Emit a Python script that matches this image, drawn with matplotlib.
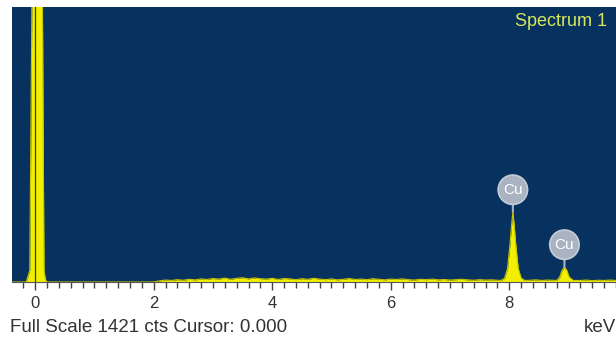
import matplotlib.pyplot as plt
from matplotlib.ticker import MultipleLocator

plt.rcParams["font.family"] = ["Liberation Sans", "DejaVu Sans"]

# EDS spectrum, counts per channel against energy (keV)
energy_kev = [
    -0.40, -0.15, -0.13, -0.09, -0.05, 0.12, 0.15, 0.17, 0.19,
    2.00, 2.10,
    2.2, 2.3, 2.4, 2.5, 2.6, 2.7, 2.8, 2.9, 3.0, 3.1, 3.2, 3.3, 3.4, 3.5,
    3.6, 3.7, 3.8, 3.9, 4.0, 4.1, 4.2, 4.3, 4.4, 4.5, 4.6, 4.7, 4.8, 4.9,
    5.0, 5.1, 5.2, 5.3, 5.4, 5.5, 5.6, 5.7, 5.8, 5.9, 6.0, 6.1, 6.2, 6.3,
    6.4, 6.5, 6.6, 6.7, 6.8, 6.9, 7.0, 7.1, 7.2, 7.3, 7.4, 7.5, 7.6, 7.7,
    7.8,
    7.86, 7.92, 7.97, 8.01, 8.04, 8.06, 8.08, 8.11, 8.15, 8.20, 8.26,
    8.35, 8.45, 8.55, 8.65, 8.74,
    8.80, 8.85, 8.89, 8.93, 8.97, 9.01, 9.08,
    9.2, 9.3, 9.4, 9.5, 9.6, 9.7, 9.8,
]
counts = [
    0, 0, 20, 60, 1600, 1600, 60, 20, 0,
    0, 6,
    10, 8, 12, 9, 14, 11, 16, 13, 18, 15, 20, 14, 19, 22,
    16, 21, 17, 15, 19, 13, 18, 16, 12, 17, 14, 19, 15, 12,
    16, 11, 14, 18, 13, 15, 12, 17, 14, 11, 15, 13, 16, 12,
    10, 14, 12, 15, 11, 13, 10, 12, 14, 11, 9, 12, 10, 11,
    9,
    8, 20, 70, 190, 300, 362, 300, 190, 70, 20, 8,
    9, 11, 8, 10, 9,
    8, 25, 60, 78, 60, 25, 8,
    8, 10, 7, 9, 8, 10, 8,
]

full_scale = 1421
cursor_kev = 0.000

# element markers: label, energy, peak counts
marker_labels = ["Cu", "Cu"]
marker_energy = [8.06, 8.93]
marker_counts = [362, 78]

bg = "#07325f"
yellow = "#f2f000"

fig = plt.figure(figsize=(6.16, 3.41), dpi=100)
ax = fig.add_axes([12 / 616, 59 / 341, 604 / 616, 275 / 341])
ax.set_facecolor(bg)

ax.fill_between(energy_kev, counts, 0, color=yellow, linewidth=0, zorder=2)
ax.plot(energy_kev, counts, color="#c9c400", linewidth=0.8, zorder=3)
ax.axvline(cursor_kev, color="#3a3a20", linewidth=0.9, zorder=4)

for label, e, c in zip(marker_labels, marker_energy, marker_counts):
    ax.annotate(label, xy=(e, c), xytext=(0, 16), textcoords="offset points",
                ha="center", va="center", fontsize=11, color="white",
                bbox=dict(boxstyle="circle,pad=0.32", fc="#a9b3c1", ec="#c4ccd6", lw=1.2),
                arrowprops=dict(arrowstyle="-", color="#aab4c2", lw=1.5,
                                shrinkA=0, shrinkB=0),
                zorder=5)

ax.text(0.985, 0.949, "Spectrum 1", transform=ax.transAxes, ha="right", va="center",
        fontsize=13, color="#d6e85a")

ax.set_xlim(-0.39, 9.8)
ax.set_ylim(0, full_scale)
ax.set_yticks([])
for side in ["top", "right", "left"]:
    ax.spines[side].set_visible(False)
ax.spines["bottom"].set_color("#555555")
ax.spines["bottom"].set_linewidth(0.8)

ax.xaxis.set_major_locator(MultipleLocator(2))
ax.xaxis.set_minor_locator(MultipleLocator(0.2))
ax.tick_params(axis="x", which="major", direction="out", length=6, width=1,
               color="#444444", labelsize=12, labelcolor="#333333", pad=4)
ax.tick_params(axis="x", which="minor", direction="out", length=4, width=1,
               color="#444444")

fig.text(10 / 616, 1 - 327 / 341, f"Full Scale {full_scale} cts Cursor: {cursor_kev:.3f}",
         ha="left", va="center", fontsize=13.5, color="#333333")
fig.text(1.0, 1 - 327 / 341, "keV", ha="right", va="center", fontsize=13.5, color="#333333")

fig.savefig("out.png", dpi=100, facecolor="white")
